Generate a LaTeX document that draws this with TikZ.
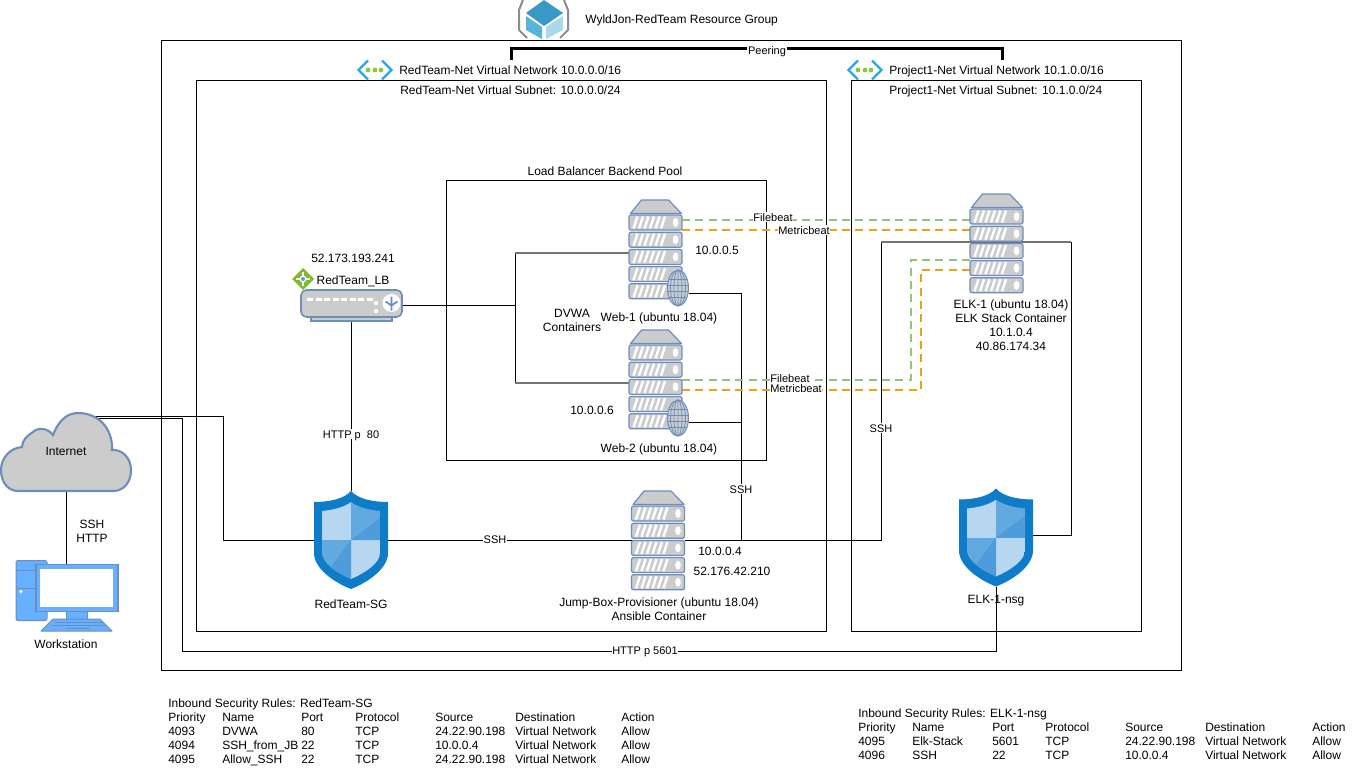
\documentclass[tikz,border=0pt]{standalone}
\usepackage{fontspec}
\setmainfont{Liberation Sans}
\definecolor{iconblue}{HTML}{6C8EBF}
\definecolor{icongray}{HTML}{CCCCCC}
\definecolor{beatgreen}{HTML}{97C377}
\definecolor{beatorange}{HTML}{E8A30F}
\definecolor{shieldedge}{HTML}{0F7CC9}
\definecolor{shieldlight}{HTML}{B7D7F0}
\definecolor{shieldmid}{HTML}{62A9E0}
\definecolor{shielddark}{HTML}{4F9CDB}
\definecolor{pcblue}{HTML}{66B0FF}
\definecolor{cubetop}{HTML}{3999C6}
\definecolor{cubeleft}{HTML}{59B4D9}
\definecolor{cuberight}{HTML}{A8D9EF}
\definecolor{vnetcyan}{HTML}{28A8EA}
\definecolor{vnetdot}{HTML}{8DC63F}
\definecolor{lbgreen}{HTML}{7FBA2D}
\definecolor{lbdot}{HTML}{4AA3E8}
\tikzset{
    boxline/.style={draw=black, line width=.75pt},
    wire/.style={draw=black, line width=.75pt},
    graywire/.style={draw=black!55, line width=1.5pt},
    peerwire/.style={draw=black, line width=2.25pt},
    filewire/.style={draw=beatgreen, line width=1.5pt, dash pattern=on 6pt off 4pt},
    metricwire/.style={draw=beatorange, line width=1.5pt, dash pattern=on 6pt off 4pt},
    plaintext/.style={inner sep=0pt, align=center},
    lefttext/.style={inner sep=0pt, anchor=west, text height=7.5pt, text depth=1.5pt},
    wiretext/.style={fill=white, inner sep=.5pt, font=\fontsize{8.25}{10}\selectfont, text height=7.2pt, text depth=0pt},
    iconbox/.style={inner sep=0pt, outer sep=0pt},
    iconpart/.style={draw=iconblue, fill=icongray, line width=.9pt},
    pics/serverstack/.style={code={
        \path[iconpart, line join=round] (-14,-49) -- (13,-49) -- (26,-35.5) -- (-25,-35.5) -- cycle;
        \foreach \d in {0,1,2,3,4} {
            \path[iconpart, rounded corners=1.5pt] (-26.5,{-34+17.2*\d}) rectangle (26.5,{-19+17.2*\d});
            \foreach \s in {-22,-16.5,-11,-5.5,0,5.5}
                \draw[white, line width=1.8pt] (\s,{-20.5+17.2*\d}) -- ({\s+4},{-32.5+17.2*\d});
            \fill[white] (20,{-26.5+17.2*\d}) ellipse (2.8 and 4.5);
        }
    }},
    pics/globeicon/.style={code={
        \path[iconpart, line width=.75pt] (0,0) ellipse (10.5 and 18);
        \draw[iconblue, line width=.6pt] (0,-18) -- (0,18) (0,0) ellipse (4 and 18) (0,0) ellipse (7.5 and 18);
        \draw[iconblue, line width=.6pt] (-9,-9) -- (9,-9) (-10.5,-3) -- (10.5,-3) (-10.5,3) -- (10.5,3) (-9,9) -- (9,9);
    }},
    pics/shieldicon/.style={code={
        \fill[shieldedge] (0,-49) .. controls (7,-41) and (22,-38) .. (37,-38) -- (37,13)
            .. controls (37,28) and (18,42) .. (0,49)
            .. controls (-18,42) and (-37,28) .. (-37,13) -- (-37,-38)
            .. controls (-22,-38) and (-7,-41) .. (0,-49) -- cycle;
        \begin{scope}
            \clip (0,-38) .. controls (6,-33) and (18,-30) .. (29,-29) -- (29,13)
                .. controls (29,23) and (14,33) .. (0,39)
                .. controls (-14,33) and (-29,23) .. (-29,13) -- (-29,-29)
                .. controls (-18,-30) and (-6,-33) .. (0,-38) -- cycle;
            \fill[shieldlight] (-29,-38) rectangle (0,0);
            \fill[shieldmid] (0,-38) rectangle (29,0);
            \fill[shieldmid] (-29,0) rectangle (0,39);
            \fill[shieldlight] (0,0) rectangle (29,39);
            \fill[shielddark] (29,-22) -- (29,0) -- (0,0) -- cycle;
            \fill[shielddark] (0,0) -- (0,39) -- (-29,39) -- cycle;
        \end{scope}
    }},
    pics/vnethint/.style={code={
        \draw[vnetcyan, line width=1.8pt] (-7,-9.5) -- (-16.5,0) -- (-7,9.5);
        \draw[vnetcyan, line width=1.8pt] (7,-9.5) -- (16.5,0) -- (7,9.5);
        \foreach \x in {-7,0,6}
            \fill[vnetdot] (\x,0) circle (2.4);
    }},
}
\begin{document}
\begin{tikzpicture}[x=.75pt, y=-.75pt, every node/.style={font=\fontsize{9}{10.5}\selectfont}]
    \useasboundingbox (0,0) rectangle (1352,781);

    % caixas
    \draw[boxline] (161,41) rectangle (1181,670);
    \draw[boxline] (196,81) rectangle (826.5,631);
    \draw[boxline] (851,81) rectangle (1141,631);
    \draw[boxline] (446,181) rectangle (766,460);

    % icones (so os nomes)
    \node[iconbox, minimum width=97.5pt, minimum height=59.25pt] (internet) at (66,452) {};
    \node[iconbox, minimum width=76.5pt, minimum height=45.75pt] (workstation) at (67,595.5) {};
    \node[iconbox, minimum width=76.5pt, minimum height=23.25pt] (redteamlb) at (351,305.5) {};
    \node[iconbox, minimum width=55.5pt, minimum height=73.5pt] (redteamsg) at (351,540) {};
    \node[iconbox, minimum width=55.5pt, minimum height=74.25pt] (elknsg) at (996,537.5) {};
    \node[iconbox, minimum width=39.75pt, minimum height=73.5pt] (web1) at (655.5,249) {};
    \node[iconbox, minimum width=39.75pt, minimum height=73.5pt] (web2) at (655.5,379) {};
    \node[iconbox, minimum width=39.75pt, minimum height=73.5pt] (jumpbox) at (658,540) {};
    \node[iconbox, minimum width=39.75pt, minimum height=73.5pt] (elk1) at (996.5,243) {};
    \node[iconbox, minimum width=15.75pt, minimum height=27pt] (web1globe) at (678,288) {};
    \node[iconbox, minimum width=15.75pt, minimum height=27pt] (web2globe) at (678,418) {};

    \coordinate (cloudssh) at (92,416);
    \coordinate (cloudhttp) at (92,418);
    \coordinate (sgbend) at (223,540);
    \coordinate (kibanabend) at (182,651);
    \coordinate (lbjoin) at (515,305.5);
    \coordinate (poolone) at (515,253);
    \coordinate (pooltwo) at (515,383);
    \coordinate (jumpone) at (741,293);
    \coordinate (jumptwo) at (741,422);
    \coordinate (jumpfoot) at (741,540);
    \coordinate (elkbenda) at (881,242);
    \coordinate (elkbendb) at (1071,242);
    \coordinate (nsgport) at (1033,535);
    \coordinate (filebeatone) at (0,220);
    \coordinate (metricone) at (0,230);
    \coordinate (filebeattwo) at (0,380);
    \coordinate (metrictwo) at (0,390);
    \coordinate (filecorner) at (911,260);
    \coordinate (metriccorner) at (921,270);
    \coordinate (peerleft) at (511,60);
    \coordinate (peertop) at (511,49);
    \coordinate (peerright) at (1002,60);

    % ligacoes
    \draw[wire] (internet.south) -- (workstation.north -| internet.south);
    \draw[wire] (cloudssh) -| (sgbend) -- (redteamsg.west);
    \draw[wire] (cloudhttp) -| (kibanabend) -| (elknsg.south);
    \draw[wire] (redteamlb.south) -- (redteamsg.north);
    \draw[wire] (redteamsg.east) -- (jumpbox.west);
    \draw[wire] (redteamlb.east) -- (lbjoin);
    \draw[wire] (poolone) -- (pooltwo);
    \draw[graywire] (poolone) -- (web1.west |- poolone);
    \draw[graywire] (pooltwo) -- (web2.west |- pooltwo);
    \draw[wire] (web1globe.east |- jumpone) -- (jumpone) -- (jumpfoot);
    \draw[wire] (web2globe.east |- jumptwo) -- (jumptwo);
    \draw[wire] (jumpbox.east) -| (elkbenda);
    \draw[graywire] (elkbenda) -- (elkbendb);
    \draw[wire] (elkbendb) |- (nsgport);
    \draw[wire] (elknsg.south) -- (elknsg.south |- kibanabend);
    \draw[peerwire] (peerleft) -- (peertop) -| (peerright);

    % beats
    \draw[filewire] (web1.east |- filebeatone) -- (elk1.west |- filebeatone);
    \draw[metricwire] (web1.east |- metricone) -- (elk1.west |- metricone);
    \draw[filewire] (web2.east |- filebeattwo) -| (filecorner) -- (elk1.west |- filecorner);
    \draw[metricwire] (web2.east |- metrictwo) -| (metriccorner) -- (elk1.west |- metriccorner);

    % servidores
    \pic at (web1) {serverstack};
    \pic at (web2) {serverstack};
    \pic at (jumpbox) {serverstack};
    \pic at (elk1) {serverstack};
    \pic at (web1globe) {globeicon};
    \pic at (web2globe) {globeicon};
    \pic at (redteamsg) {shieldicon};
    \pic at (elknsg) {shieldicon};
    \pic at (375,70) {vnethint};
    \pic at (865,70) {vnethint};

    % nuvem
    \begin{scope}[shift={(internet.center)}]
        \path[iconpart, line width=1.6pt] (-48,39) -- (47,39) .. controls (58,39) and (65,30) .. (65,18)
            .. controls (65,6) and (56,-3) .. (46,-2) .. controls (47,-24) and (32,-39) .. (12,-39)
            .. controls (0,-39) and (-8,-30) .. (-13,-17) .. controls (-18,-24) and (-28,-25) .. (-33,-20)
            .. controls (-38,-17) and (-44,-12) .. (-44,-5) .. controls (-56,-4) and (-65,6) .. (-65,18)
            .. controls (-65,30) and (-58,39) .. (-48,39) -- cycle;
    \end{scope}

    % workstation
    \begin{scope}[shift={(workstation.center)}]
        \path[fill=pcblue, draw=iconblue, line width=.75pt, rounded corners=1.5pt] (-51,-35) rectangle (-20,25);
        \draw[iconblue, line width=.75pt] (-51,-25) -- (-20,-25) (-51,-7) -- (-20,-7);
        \fill[white] (-46,-4) circle (1.8);
        \path[fill=pcblue, draw=iconblue, line width=.75pt] (-1,15) rectangle (20,23.5);
        \path[fill=pcblue, draw=iconblue, line width=.75pt, line join=round] (-14,23.5) -- (33,23.5) -- (45,35.5) -- (-26,35.5) -- cycle;
        \draw[iconblue, line width=.75pt] (-12,26.5) -- (36,26.5) (-16,29.5) -- (40,29.5) (-2,33) -- (22,33);
        \path[fill=pcblue, draw=iconblue, line width=1pt] (-31,-31) rectangle (51,16);
        \fill[white] (-27,-27) rectangle (46,11);
    \end{scope}

    % balanceador
    \begin{scope}[shift={(redteamlb.center)}]
        \path[iconpart] (-40,11) rectangle (41,15.5);
        \path[iconpart, line width=1.2pt, rounded corners=4pt] (-50,-15.5) rectangle (51,11.5);
        \foreach \x in {-44,-35.5,-27,-18.5,-10,-1.5,7,15.5}
            \fill[white] (\x,-7.5) rectangle ++(6,3);
        \fill[white] (25,-2.5) circle (2.2) (25,5.5) circle (2.2);
        \fill[white] (40.5,-2.5) circle (9);
        \draw[iconblue, line width=1.3pt] (40.5,5) -- (40.5,-9) (34.5,-4) -- (40.5,0) -- (46.5,-4);
    \end{scope}
    \fill[lbgreen] (303,268) -- (314,279) -- (303,290) -- (292,279) -- cycle;
    \draw[white, line width=.9pt] (296,279) -- (310,279) (303,272) -- (303,286);
    \path[fill=lbdot, draw=white, line width=.9pt] (303,279) circle (2.8);

    % grupo de recursos
    \fill[cubetop] (544,0) -- (563,13) -- (544,26) -- (526,13) -- cycle;
    \fill[cubeleft] (526,16) -- (542,27) -- (542,39) -- (526,30) -- cycle;
    \fill[cuberight] (563,16) -- (546,27) -- (546,39) -- (563,30) -- cycle;
    \draw[black!45, line width=1.5pt] (523,0) -- (519,10) -- (519,30) -- (527,38);
    \draw[black!45, line width=1.5pt] (564,0) -- (568,10) -- (568,30) -- (560,38);

    % textos
    \node[lefttext] (rgtitle) at (585,20) {WyldJon-RedTeam Resource Group};
    \node[wiretext] (peering) at (767,50) {Peering};
    \node[lefttext] (rednet) at (399,71) {RedTeam-Net Virtual Network 10.0.0.0/16};
    \node[lefttext] (redsub) at (400,91) {RedTeam-Net Virtual Subnet: 10.0.0.0/24};
    \node[lefttext] (projnet) at (889,71) {Project1-Net Virtual Network 10.1.0.0/16};
    \node[lefttext] (projsub) at (889,91) {Project1-Net Virtual Subnet: 10.1.0.0/24};
    \node[plaintext] (pooltitle) at (605,171) {Load Balancer Backend Pool};
    \node[plaintext] (internettext) at (66,451) {Internet};
    \node[plaintext] (cloudports) at (92,531) {SSH\\HTTP};
    \node[plaintext] (worktext) at (66,644) {Workstation};
    \node[plaintext] (lbaddr) at (353,258) {52.173.193.241};
    \node[plaintext] (lbname) at (353,281) {RedTeam\_LB};
    \node[wiretext] (httpeighty) at (351,434) {HTTP p\ \ 80};
    \node[plaintext] (sgname) at (351,604) {RedTeam-SG};
    \node[wiretext] (sshsg) at (495,539) {SSH};
    \node[plaintext] (web1addr) at (717,250) {10.0.0.5};
    \node[plaintext] (web2addr) at (592,410) {10.0.0.6};
    \node[plaintext] (dvwa) at (572,320) {DVWA\\Containers};
    \node[plaintext] (web1name) at (659,318) {Web-1 (ubuntu 18.04)};
    \node[plaintext] (web2name) at (659,449) {Web-2 (ubuntu 18.04)};
    \node[wiretext] (sshjump) at (741,489) {SSH};
    \node[plaintext] (jumpaddra) at (720,551) {10.0.0.4};
    \node[plaintext] (jumpaddrb) at (732,571) {52.176.42.210};
    \node[plaintext] (jumpname) at (659,609) {Jump-Box-Provisioner (ubuntu 18.04)\\Ansible Container};
    \node[wiretext] (sshelk) at (881,428) {SSH};
    \node[plaintext] (elkname) at (1011,325) {ELK-1 (ubuntu 18.04)\\ELK Stack Container\\10.1.0.4\\40.86.174.34};
    \node[plaintext] (nsgname) at (996,601) {ELK-1-nsg};
    \node[wiretext] (httpkibana) at (645,650) {HTTP p 5601};
    \node[wiretext] (fileone) at (773,217) {Filebeat};
    \node[wiretext] (metricbeatone) at (804,230) {Metricbeat};
    \node[wiretext] (filetwo) at (790,378) {Filebeat};
    \node[wiretext] (metricbeattwo) at (796,388) {Metricbeat};

    % regras RedTeam-SG
    \node[lefttext] (rsgtitle) at (168,703) {Inbound Security Rules: RedTeam-SG};
    \foreach \x/\t [count=\c] in {168/Priority,222/Name,301/Port,355/Protocol,435/Source,515/Destination,621/Action}
        \node[lefttext] (rsghead\c) at (\x,717) {\t};
    \foreach \x/\t [count=\c] in {168/4093,222/DVWA,301/80,355/TCP,435/24.22.90.198,515/Virtual Network,621/Allow}
        \node[lefttext] (rsga\c) at (\x,731) {\t};
    \foreach \x/\t [count=\c] in {168/4094,222/SSH\_from\_JB,301/22,355/TCP,435/10.0.0.4,515/Virtual Network,621/Allow}
        \node[lefttext] (rsgb\c) at (\x,745) {\t};
    \foreach \x/\t [count=\c] in {168/4095,222/Allow\_SSH,301/22,355/TCP,435/24.22.90.198,515/Virtual Network,621/Allow}
        \node[lefttext] (rsgc\c) at (\x,759) {\t};

    % regras ELK-1-nsg
    \node[lefttext] (nsgtitle) at (858,713) {Inbound Security Rules: ELK-1-nsg};
    \foreach \x/\t [count=\c] in {858/Priority,912/Name,992/Port,1045/Protocol,1125/Source,1205/Destination,1312/Action}
        \node[lefttext] (nsghead\c) at (\x,727) {\t};
    \foreach \x/\t [count=\c] in {858/4095,912/Elk-Stack,992/5601,1045/TCP,1125/24.22.90.198,1205/Virtual Network,1312/Allow}
        \node[lefttext] (nsga\c) at (\x,741) {\t};
    \foreach \x/\t [count=\c] in {858/4096,912/SSH,992/22,1045/TCP,1125/10.0.0.4,1205/Virtual Network,1312/Allow}
        \node[lefttext] (nsgb\c) at (\x,755) {\t};
\end{tikzpicture}
\end{document}
